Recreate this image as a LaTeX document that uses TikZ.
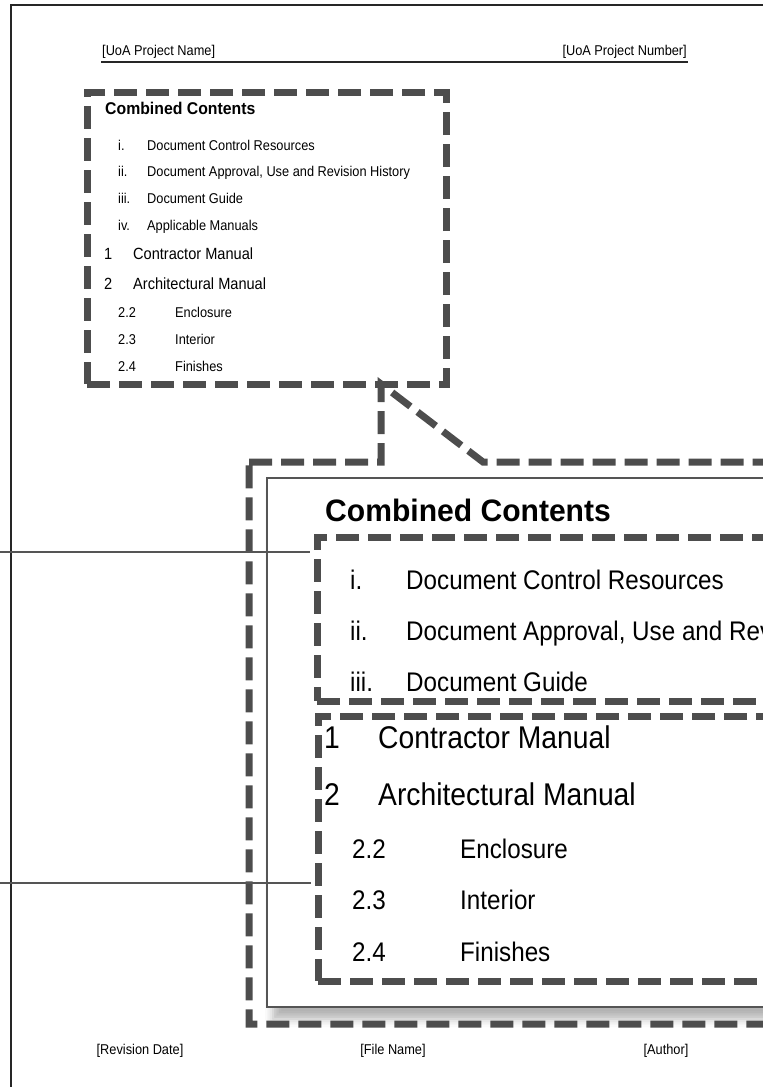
\documentclass[tikz,border=0pt]{standalone}
\usepackage{fontspec}
\setmainfont{Liberation Sans}
\newfontfamily\narrowfont[FakeStretch=0.9]{Liberation Sans}
\newfontfamily\headfont[FakeStretch=0.93]{Liberation Sans}
\newfontfamily\bigheadfont[FakeStretch=0.97]{Liberation Sans}
\usetikzlibrary{fit,shadows.blur}

\definecolor{dashgray}{RGB}{77,77,77}
\definecolor{rulegray}{RGB}{85,85,85}

\begin{document}
\begin{tikzpicture}[x=1pt,y=-1pt,
  % text styles
  lbl/.style={inner sep=0pt, anchor=base west, text=black},
  small/.style={lbl, font=\narrowfont\fontsize{14.2}{16}\selectfont},
  smallone/.style={lbl, font=\narrowfont\fontsize{16.2}{18}\selectfont},
  smallhead/.style={lbl, font=\headfont\bfseries\fontsize{17}{19}\selectfont},
  big/.style={lbl, font=\narrowfont\fontsize{26.9}{30}\selectfont},
  bigone/.style={lbl, font=\narrowfont\fontsize{31.4}{34}\selectfont},
  bighead/.style={lbl, font=\bigheadfont\bfseries\fontsize{31}{35}\selectfont},
  % line styles
  zoomline/.style={draw=dashgray, line width=7pt, dash pattern=on 23pt off 9pt, miter limit=10},
  zoombox/.style={zoomline, inner sep=0pt, fill=none},
  thinline/.style={draw=rulegray, line width=1.2pt},
  pageline/.style={draw=black!85, line width=1.3pt},
  panel/.style={draw=rulegray, line width=1.2pt, fill=white, inner sep=0pt,
    blur shadow={shadow xshift=6pt, shadow yshift=-12pt, shadow blur radius=8pt, shadow opacity=30}},
]
\useasboundingbox (0,0) rectangle (763,1087);
\clip (0,0) rectangle (763,1087);

% page outline
\coordinate (pageBL) at (11,1100);
\coordinate (pageTL) at (11,5);
\coordinate (pageTR) at (800,5);
\draw[pageline] (pageBL) -- (pageTL) -- (pageTR);

% running header
\node[small] (projname) at (102,55) {[UoA Project Name]};
\node[small, anchor=base east] (projnum) at (687,55) {[UoA Project Number]};
\coordinate (ruleL) at (101,62);
\coordinate (ruleR) at (688,62);
\draw[pageline] (ruleL) -- (ruleR);

% running footer
\node[small, anchor=base] (revdate) at (140,1054) {[Revision Date]};
\node[small, anchor=base] (filename) at (393,1054) {[File Name]};
\node[small, anchor=base] (author) at (666,1054) {[Author]};

% small contents list
\node[zoombox, fit={(87,92) (446,384)}] (srcbox) {};
\node[smallhead] (shead) at (105,114) {Combined Contents};
\node[small] (sn1) at (118,150) {i.};
\node[small] (st1) at (147,150) {Document Control Resources};
\node[small] (sn2) at (118,176) {ii.};
\node[small] (st2) at (147,176) {Document Approval, Use and Revision History};
\node[small] (sn3) at (118,203) {iii.};
\node[small] (st3) at (147,203) {Document Guide};
\node[small] (sn4) at (118,230) {iv.};
\node[small] (st4) at (147,230) {Applicable Manuals};
\node[smallone] (sn5) at (104,259) {1};
\node[smallone] (st5) at (133,259) {Contractor Manual};
\node[smallone] (sn6) at (104,289) {2};
\node[smallone] (st6) at (133,289) {Architectural Manual};
\node[small] (sn7) at (118,317) {2.2};
\node[small] (st7) at (175,317) {Enclosure};
\node[small] (sn8) at (118,344) {2.3};
\node[small] (st8) at (175,344) {Interior};
\node[small] (sn9) at (118,371) {2.4};
\node[small] (st9) at (175,371) {Finishes};

% enlarged page panel
\node[panel, fit={(267,478) (800,1007)}] (panel) {};

% callout from the small list to the enlarged view
\coordinate (tip) at (381,384);
\coordinate (zTL) at (249,462);
\coordinate (zJoin) at (381,462);
\coordinate (zDiag) at (483,462);
\coordinate (zTR) at (800,462);
\coordinate (zBR) at (800,1024);
\coordinate (zBL) at (249,1024);
\draw[zoomline] (zTL) -- (zJoin) -- (tip) -- (zDiag) -- (zTR) -- (zBR) -- (zBL) -- cycle;

% enlarged contents
\node[bighead] (bhead) at (325,521) {Combined Contents};
\node[zoombox, fit={(317,537) (800,701)}] (groupA) {};
\node[zoombox, fit={(318,716) (800,981)}] (groupB) {};

\node[big] (bn1) at (350,589) {i.};
\node[big] (bt1) at (406,589) {Document Control Resources};
\node[big] (bn2) at (350,640) {ii.};
\node[big] (bt2) at (406,640) {Document Approval, Use and Revision History};
\node[big] (bn3) at (350,691) {iii.};
\node[big] (bt3) at (406,691) {Document Guide};
\node[bigone] (bn5) at (324,748) {1};
\node[bigone] (bt5) at (378,748) {Contractor Manual};
\node[bigone] (bn6) at (324,805) {2};
\node[bigone] (bt6) at (378,805) {Architectural Manual};
\node[big] (bn7) at (352,858) {2.2};
\node[big] (bt7) at (460,858) {Enclosure};
\node[big] (bn8) at (352,909) {2.3};
\node[big] (bt8) at (460,909) {Interior};
\node[big] (bn9) at (352,961) {2.4};
\node[big] (bt9) at (460,961) {Finishes};

% leader lines entering from the left margin
\coordinate (leadA) at (0,552);
\coordinate (leadB) at (0,883);
\draw[thinline] (leadA) -- ([xshift=-3.5pt]groupA.west |- leadA);
\draw[thinline] (leadB) -- ([xshift=-3.5pt]groupB.west |- leadB);
\end{tikzpicture}
\end{document}
